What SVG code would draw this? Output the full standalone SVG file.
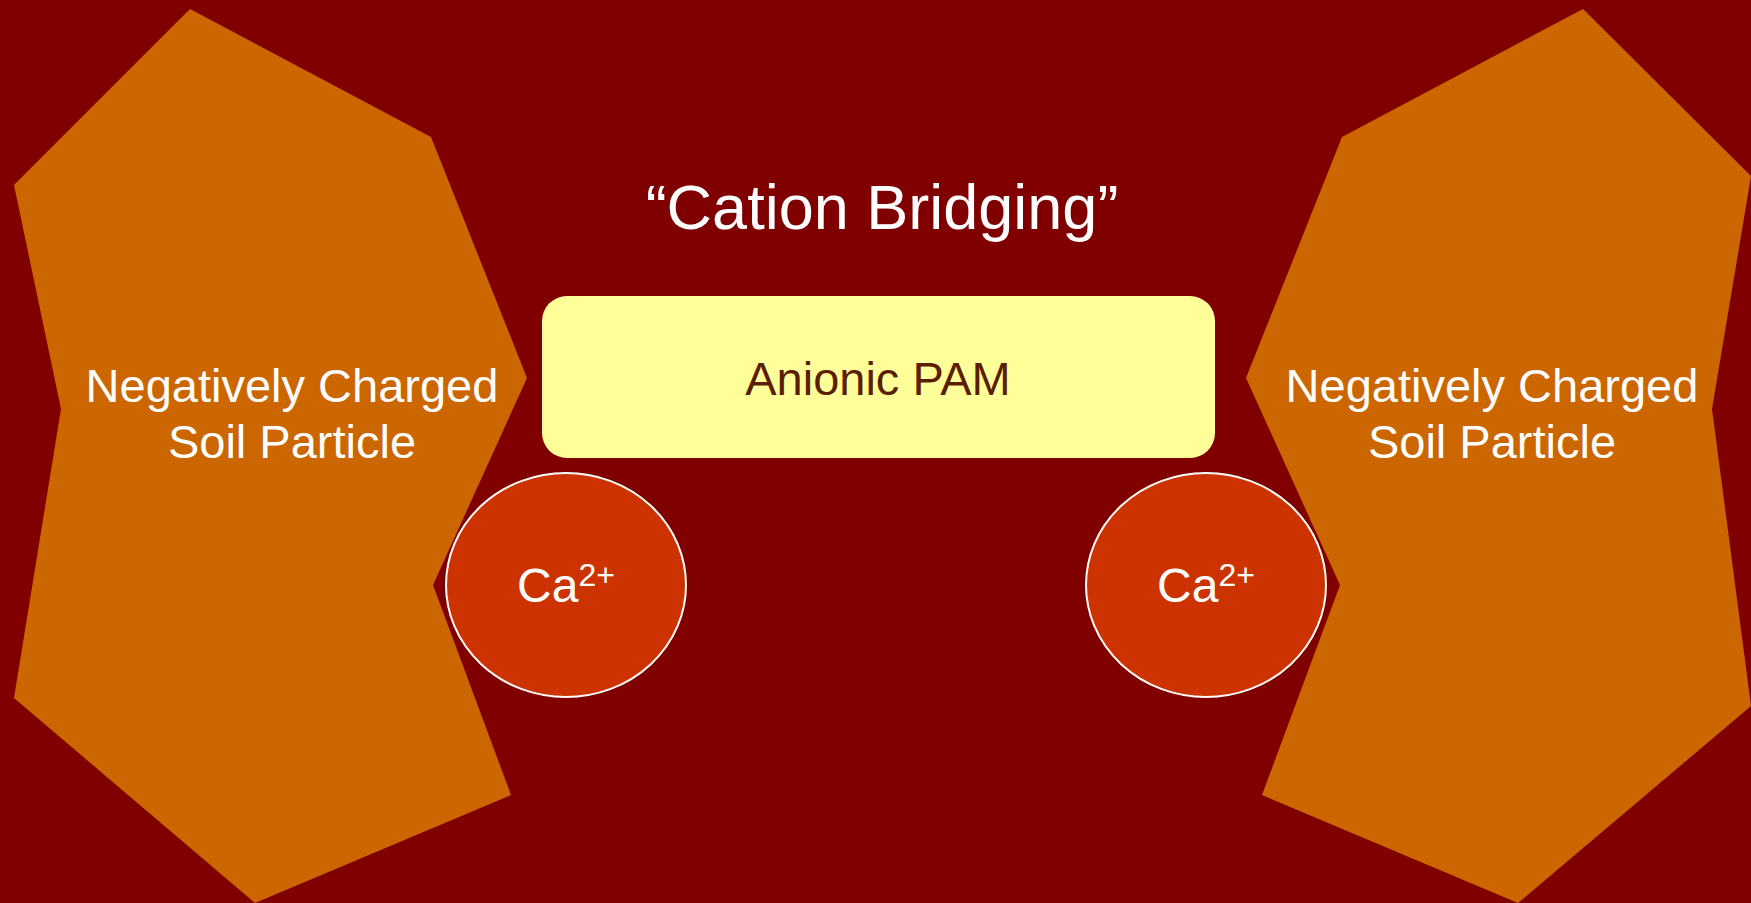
<svg xmlns="http://www.w3.org/2000/svg" width="1751" height="903" viewBox="0 0 1751 903">
<style>
.particle{fill:#CC6600}
.ion{fill:#CC3300;stroke:#FFFFFF;stroke-width:2}
.lbl{font-family:"Liberation Sans",Arial,sans-serif;fill:#FFFFFF;text-anchor:middle}
</style>
<rect width="1751" height="903" fill="#800000"/>
<g id="left-particle">
<polygon class="particle" points="190,9 431,137 527,378 433,585 511,795 255,903 14,698 61,409 14,185"/>
<text class="lbl" font-size="47" x="292" y="402">Negatively Charged</text>
<text class="lbl" font-size="47" x="292" y="458">Soil Particle</text>
</g>
<g id="right-particle">
<polygon class="particle" points="1583,9 1751,176 1712,409 1751,706 1518,903 1262,795 1340,585 1246,378 1342,137"/>
<text class="lbl" font-size="47" x="1492" y="402">Negatively Charged</text>
<text class="lbl" font-size="47" x="1492" y="458">Soil Particle</text>
</g>
<g id="title">
<text class="lbl" font-size="63" x="882" y="229">“Cation Bridging”</text>
</g>
<g id="pam">
<rect x="542" y="296" width="673" height="162" rx="25" ry="25" fill="#FFFF99"/>
<text class="lbl" font-size="47" x="878" y="395" style="fill:#5C1E00">Anionic PAM</text>
</g>
<g id="ca-left">
<ellipse class="ion" cx="566" cy="585" rx="120" ry="112"/>
<text class="lbl" font-size="48" x="566" y="602">Ca<tspan font-size="32" dy="-16">2+</tspan></text>
</g>
<g id="ca-right">
<ellipse class="ion" cx="1206" cy="585" rx="120" ry="112"/>
<text class="lbl" font-size="48" x="1206" y="602">Ca<tspan font-size="32" dy="-16">2+</tspan></text>
</g>
<g id="connectors"></g>
</svg>
